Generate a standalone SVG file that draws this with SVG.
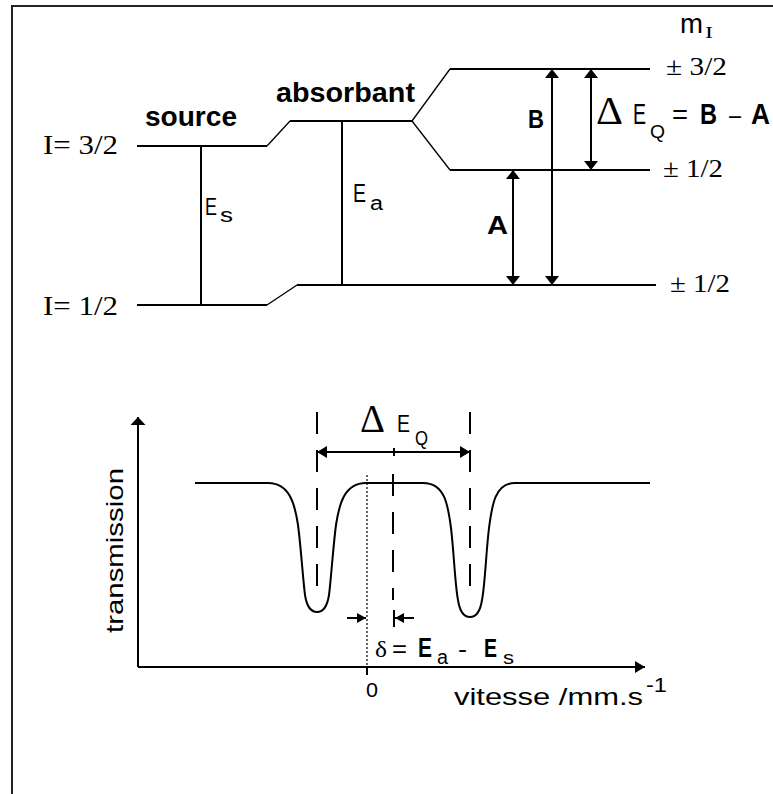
<svg xmlns="http://www.w3.org/2000/svg" width="773" height="794" viewBox="0 0 773 794">
<style>
 .ln{stroke:#000;stroke-width:2;fill:none}
 .thin{stroke:#000;stroke-width:1.3;fill:none}
 .dash{stroke:#000;stroke-width:2;fill:none;stroke-dasharray:22 16}
 .dot{stroke:#000;stroke-width:1.2;fill:none;stroke-dasharray:2 2}
 .curve{stroke:#000;stroke-width:2;fill:none}
 text{fill:#000}
 .sans{font-family:"Liberation Sans",Arial,sans-serif}
 .serif{font-family:"Liberation Serif","Times New Roman",serif}
 .bold{font-family:"Liberation Sans",Arial,sans-serif;font-weight:bold}
</style>
<defs>
 <marker id="ah" markerUnits="userSpaceOnUse" viewBox="0 0 9 14" markerWidth="9" markerHeight="14" refX="9" refY="7" orient="auto-start-reverse"><path d="M0,0 L9,7 L0,14 z" fill="#000"/></marker>
 <marker id="ah2" markerUnits="userSpaceOnUse" viewBox="0 0 10 12" markerWidth="10" markerHeight="12" refX="10" refY="6" orient="auto-start-reverse"><path d="M0,0 L10,6 L0,12 z" fill="#000"/></marker>
 <marker id="ah3" markerUnits="userSpaceOnUse" viewBox="0 0 8 15" markerWidth="8" markerHeight="15" refX="8" refY="7.5" orient="auto"><path d="M0,0 L8,7.5 L0,15 z" fill="#000"/></marker>
 <marker id="ah4" markerUnits="userSpaceOnUse" viewBox="0 0 9 10" markerWidth="9" markerHeight="10" refX="9" refY="5" orient="auto"><path d="M0,0 L9,5 L0,10 z" fill="#000"/></marker>
</defs>
<rect width="773" height="794" fill="#fff"/>
<path d="M12,794 V6 H773" stroke="#222" stroke-width="2" fill="none"/>

<g id="source">
 <path class="ln" d="M137,146 H267"/>
 <path class="ln" d="M137,305 H267"/>
 <line class="ln" x1="201" y1="146" x2="201" y2="305"/>
 <text class="bold" x="145" y="126" font-size="27" textLength="92" lengthAdjust="spacingAndGlyphs">source</text>
 <text class="serif" x="43" y="154" font-size="28" textLength="75" lengthAdjust="spacingAndGlyphs">I= 3/2</text>
 <text class="serif" x="43" y="315" font-size="28" textLength="75" lengthAdjust="spacingAndGlyphs">I= 1/2</text>
 <text class="sans" x="205" y="215" font-size="24" textLength="12" lengthAdjust="spacingAndGlyphs">E</text>
 <text class="sans" x="220" y="222" font-size="20" textLength="13" lengthAdjust="spacingAndGlyphs">s</text>
</g>

<g id="absorbant">
 <path class="thin" d="M267,146 L290,121"/>
 <path class="ln" d="M290,121 H412"/>
 <path class="thin" d="M412,121 L450,69"/>
 <path class="thin" d="M412,121 L450,170"/>
 <path class="ln" d="M450,69 H650"/>
 <path class="ln" d="M450,170 H650"/>
 <path class="thin" d="M267,305 L297,285"/>
 <path class="ln" d="M297,285 H656"/>
 <line class="ln" x1="342" y1="121" x2="342" y2="285"/>
 <text class="bold" x="276" y="102" font-size="27" textLength="139" lengthAdjust="spacingAndGlyphs">absorbant</text>
 <text class="sans" x="353" y="202" font-size="25" textLength="13" lengthAdjust="spacingAndGlyphs">E</text>
 <text class="sans" x="370" y="210" font-size="20" textLength="13" lengthAdjust="spacingAndGlyphs">a</text>
 <text class="sans" x="680" y="33" font-size="28" textLength="23" lengthAdjust="spacingAndGlyphs">m</text>
 <text class="serif" x="705" y="38" font-size="16" textLength="8" lengthAdjust="spacingAndGlyphs">I</text>
 <text class="serif" x="666" y="75" font-size="25" textLength="61" lengthAdjust="spacingAndGlyphs">± 3/2</text>
 <text class="serif" x="663" y="177" font-size="25" textLength="60" lengthAdjust="spacingAndGlyphs">± 1/2</text>
 <text class="serif" x="670" y="292" font-size="25" textLength="60" lengthAdjust="spacingAndGlyphs">± 1/2</text>
</g>

<g id="connectors">
 <line class="ln" x1="552" y1="69" x2="552" y2="285" marker-start="url(#ah)" marker-end="url(#ah)"/>
 <line class="ln" x1="591" y1="69" x2="591" y2="170" marker-start="url(#ah)" marker-end="url(#ah)"/>
 <line class="ln" x1="513" y1="170" x2="513" y2="285" marker-start="url(#ah)" marker-end="url(#ah)"/>
 <line class="ln" x1="317" y1="452" x2="470" y2="452" marker-start="url(#ah2)" marker-end="url(#ah2)"/>
 <line class="ln" x1="394" y1="448" x2="394" y2="456"/>
 <line class="ln" x1="347" y1="618" x2="366" y2="618" marker-end="url(#ah4)"/>
 <line class="ln" x1="414" y1="618" x2="395" y2="618" marker-end="url(#ah4)"/>
</g>

<g id="labels-top">
 <text class="bold" x="528" y="128" font-size="25" textLength="16" lengthAdjust="spacingAndGlyphs">B</text>
 <text class="bold" x="487" y="234" font-size="26" textLength="21" lengthAdjust="spacingAndGlyphs">A</text>
 <text class="serif" x="596" y="124" font-size="40" textLength="27" lengthAdjust="spacingAndGlyphs">Δ</text>
 <text class="sans" x="633" y="124" font-size="30" textLength="13" lengthAdjust="spacingAndGlyphs">E</text>
 <text class="sans" x="650" y="138" font-size="19" textLength="15" lengthAdjust="spacingAndGlyphs">Q</text>
 <text class="sans" x="672" y="124" font-size="28" textLength="16" lengthAdjust="spacingAndGlyphs">=</text>
 <text class="bold" x="700" y="124" font-size="30" textLength="17" lengthAdjust="spacingAndGlyphs">B</text>
 <text class="sans" x="729" y="124" font-size="28" textLength="12" lengthAdjust="spacingAndGlyphs">–</text>
 <text class="bold" x="751" y="124" font-size="29" textLength="19" lengthAdjust="spacingAndGlyphs">A</text>
</g>

<g id="spectrum">
 <line class="ln" x1="138" y1="667" x2="138" y2="417" marker-end="url(#ah3)"/>
 <line class="ln" x1="138" y1="667" x2="645" y2="667" marker-end="url(#ah2)"/>
 <path class="curve" d="M195,483 H268 C290,483 295,505 298,525 C301,548 303,580 305,595 C307,608 312,612 317,612 C322,612 327,608 329,595 C331,580 333,548 336,525 C339,505 344,483 366,483 H423 C445,483 448,505 451,528 C454,553 455,585 458,600 C460,613 465,617 470,617 C475,617 480,613 482,600 C485,585 486,553 489,528 C492,505 495,483 515,483 H650"/>
 <line class="dash" x1="317" y1="412" x2="317" y2="590"/>
 <line class="dash" x1="470" y1="412" x2="470" y2="590"/>
 <line class="dash" x1="393" y1="474" x2="393" y2="600"/>
 <line class="ln" x1="394" y1="610" x2="394" y2="627"/>
 <line class="dot" x1="367" y1="475" x2="367" y2="667"/>
 <line class="ln" x1="367" y1="667" x2="367" y2="675"/>
 <text class="sans" transform="translate(123,633) rotate(-90)" font-size="24" textLength="165" lengthAdjust="spacingAndGlyphs">transmission</text>
 <text class="serif" x="360" y="432" font-size="40" textLength="25" lengthAdjust="spacingAndGlyphs">Δ</text>
 <text class="sans" x="397" y="432" font-size="24" textLength="13" lengthAdjust="spacingAndGlyphs">E</text>
 <text class="sans" x="415" y="445" font-size="20" textLength="13" lengthAdjust="spacingAndGlyphs">Q</text>
 <text class="serif" x="375" y="657" font-size="24" textLength="12" lengthAdjust="spacingAndGlyphs">δ</text>
 <text class="sans" x="392" y="657" font-size="24" textLength="15" lengthAdjust="spacingAndGlyphs">=</text>
 <text class="bold" x="418" y="657" font-size="28" textLength="14" lengthAdjust="spacingAndGlyphs">E</text>
 <text class="sans" x="437" y="664" font-size="20" textLength="11" lengthAdjust="spacingAndGlyphs">a</text>
 <text class="sans" x="458" y="657" font-size="24" textLength="9" lengthAdjust="spacingAndGlyphs">-</text>
 <text class="bold" x="484" y="657" font-size="26" textLength="13" lengthAdjust="spacingAndGlyphs">E</text>
 <text class="sans" x="503" y="664" font-size="19" textLength="11" lengthAdjust="spacingAndGlyphs">s</text>
 <text class="sans" x="366" y="697" font-size="21" textLength="12" lengthAdjust="spacingAndGlyphs">0</text>
 <text class="sans" x="454" y="705" font-size="24" textLength="189" lengthAdjust="spacingAndGlyphs">vitesse  /mm.s</text>
 <text class="sans" x="646" y="692" font-size="21" textLength="21" lengthAdjust="spacingAndGlyphs">-1</text>
</g>
</svg>
